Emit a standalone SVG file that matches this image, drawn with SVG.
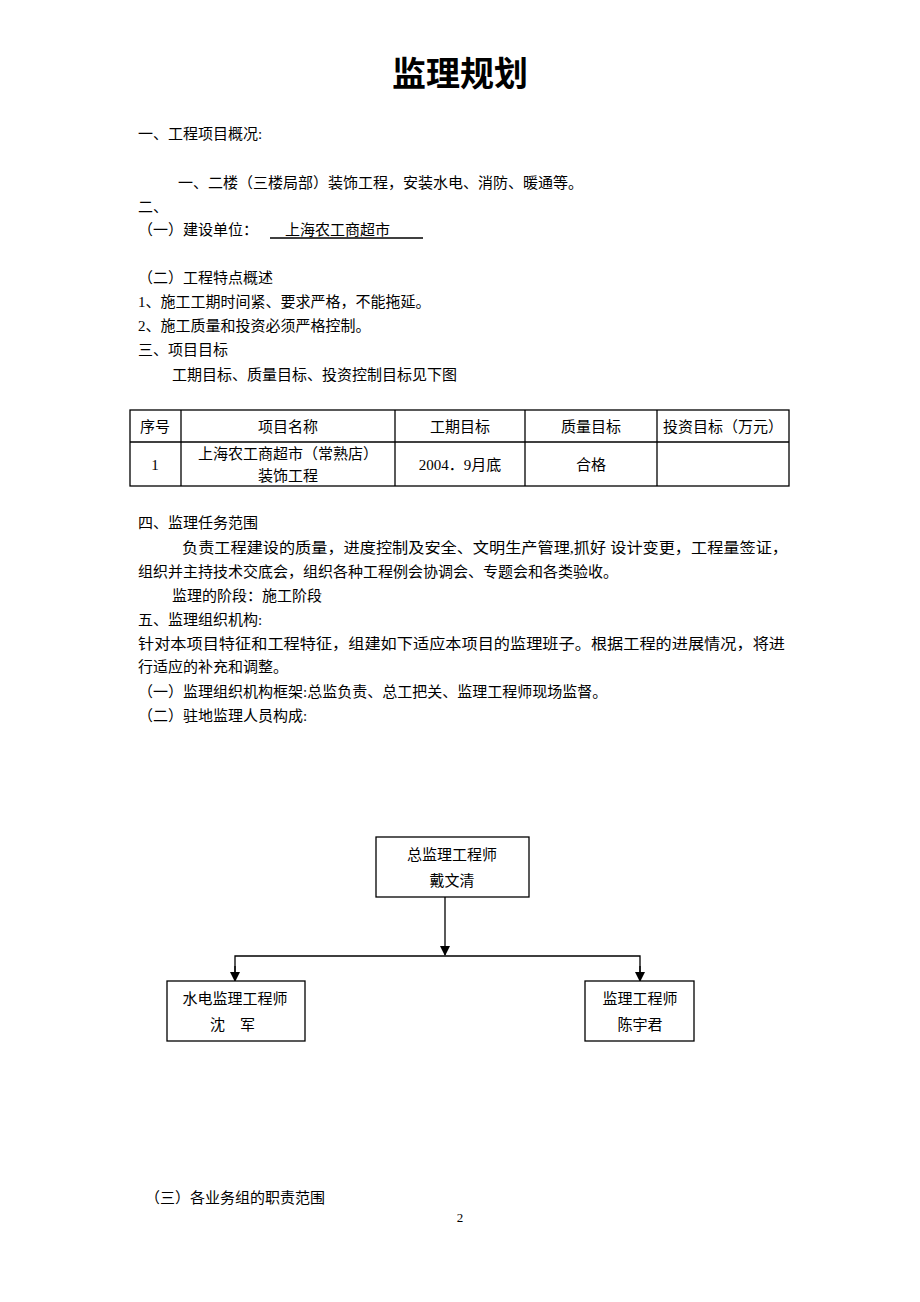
<svg xmlns="http://www.w3.org/2000/svg" width="920" height="1302" viewBox="0 0 920 1302">
<style>
text{font-family:"Liberation Serif","Noto Sans CJK SC",serif;font-size:15px;fill:#000}
.c{text-anchor:middle}
.b{fill:#fff;stroke:#000;stroke-width:1.3}
.l{stroke:#000;stroke-width:1.3;fill:none}
</style>
<defs><marker id="a" markerWidth="10" markerHeight="10" refX="9" refY="5" orient="auto" markerUnits="userSpaceOnUse"><path d="M0,0 L10,5 L0,10 z" fill="#000"/></marker></defs>
<rect width="920" height="1302" fill="#fff"/>
<text x="460" y="86" class="c" style="font-size:34px;font-weight:bold">监理规划</text>
<text x="138" y="139">一、工程项目概况:</text>
<text x="178" y="188">一、二楼（三楼局部）装饰工程，安装水电、消防、暖通等。</text>
<text x="138" y="212">二、</text>
<text x="138" y="235">（一）建设单位：</text>
<text x="285" y="235">上海农工商超市</text>
<line x1="270" y1="238" x2="423" y2="238" class="l" stroke-width="1"/>
<text x="138" y="283">（二）工程特点概述</text>
<text x="138" y="307">1、施工工期时间紧、要求严格，不能拖延。</text>
<text x="138" y="331">2、施工质量和投资必须严格控制。</text>
<text x="138" y="355">三、项目目标</text>
<text x="172" y="380">工期目标、质量目标、投资控制目标见下图</text>
<g id="table">
<rect x="130" y="410" width="659" height="76" class="l"/>
<line x1="130" y1="442" x2="789" y2="442" class="l"/>
<line x1="181" y1="410" x2="181" y2="486" class="l"/>
<line x1="395" y1="410" x2="395" y2="486" class="l"/>
<line x1="525" y1="410" x2="525" y2="486" class="l"/>
<line x1="657" y1="410" x2="657" y2="486" class="l"/>
<text x="155" y="432" class="c">序号</text>
<text x="288" y="432" class="c">项目名称</text>
<text x="460" y="432" class="c">工期目标</text>
<text x="591" y="432" class="c">质量目标</text>
<text x="723" y="432" class="c">投资目标（万元）</text>
<text x="155" y="470" class="c">1</text>
<text x="288" y="459" class="c">上海农工商超市（常熟店）</text>
<text x="288" y="481" class="c">装饰工程</text>
<text x="460" y="470" class="c">2004．9月底</text>
<text x="591" y="470" class="c">合格</text>
</g>
<text x="138" y="528">四、监理任务范围</text>
<text x="182" y="553" textLength="606" lengthAdjust="spacingAndGlyphs">负责工程建设的质量，进度控制及安全、文明生产管理,抓好 设计变更，工程量签证，</text>
<text x="138" y="577">组织并主持技术交底会，组织各种工程例会协调会、专题会和各类验收。</text>
<text x="172" y="601">监理的阶段：施工阶段</text>
<text x="138" y="625">五、监理组织机构:</text>
<text x="138" y="649" textLength="647" lengthAdjust="spacingAndGlyphs">针对本项目特征和工程特征，组建如下适应本项目的监理班子。根据工程的进展情况，将进</text>
<text x="138" y="672">行适应的补充和调整。</text>
<text x="138" y="697">（一）监理组织机构框架:总监负责、总工把关、监理工程师现场监督。</text>
<text x="138" y="721">（二）驻地监理人员构成:</text>
<g id="connectors">
<line x1="445" y1="897" x2="445" y2="955" class="l" stroke-width="2" marker-end="url(#a)"/>
<polyline points="235,980 235,956 640,956 640,980" class="l" stroke-width="2"/>
<line x1="235" y1="966" x2="235" y2="981" class="l" marker-end="url(#a)"/>
<line x1="640" y1="966" x2="640" y2="981" class="l" marker-end="url(#a)"/>
</g>
<g id="n1"><rect x="376" y="837" width="153" height="60" class="b"/>
<text x="452" y="860" class="c">总监理工程师</text><text x="452" y="886" class="c">戴文清</text></g>
<g id="n2"><rect x="167" y="981" width="138" height="60" class="b"/>
<text x="235" y="1004" class="c">水电监理工程师</text><text x="210" y="1030">沈　军</text></g>
<g id="n3"><rect x="585" y="981" width="109" height="60" class="b"/>
<text x="640" y="1004" class="c">监理工程师</text><text x="640" y="1030" class="c">陈宇君</text></g>
<text x="145" y="1203">（三）各业务组的职责范围</text>
<text x="460" y="1222" class="c" style="font-size:13px">2</text>
</svg>
